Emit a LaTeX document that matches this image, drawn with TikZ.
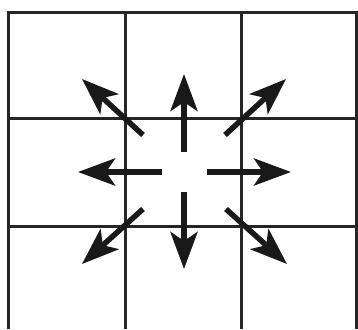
\documentclass[tikz,border=0pt]{standalone}
\usepackage{tikz}
\usetikzlibrary{arrows.meta}

\begin{document}
\begin{tikzpicture}[
  x=1pt,y=-1pt,
  gridline/.style={line width=3pt,draw=black!85},
  push/.style={-{Stealth[length=37pt,width=27pt,inset=9pt]},line width=5.5pt,draw=black!90}
]
\useasboundingbox (0,0) rectangle (358,329);
% grid
\draw[gridline] (8,329) -- (8,13) -- (356,13) -- (356,329);
\draw[gridline] (125,13) -- (125,329);
\draw[gridline] (241,13) -- (241,329);
\draw[gridline] (8,118) -- (356,118);
\draw[gridline] (8,226) -- (356,226);
% arrow ends
\coordinate (nFrom) at (184,152);  \coordinate (nTo) at (184,74);
\coordinate (sFrom) at (184,192);  \coordinate (sTo) at (184,269);
\coordinate (wFrom) at (162,172);  \coordinate (wTo) at (78,172);
\coordinate (eFrom) at (207,172);  \coordinate (eTo) at (291,172);
\coordinate (nwFrom) at (143,135); \coordinate (nwTo) at (82,79);
\coordinate (neFrom) at (225,135); \coordinate (neTo) at (286,79);
\coordinate (swFrom) at (143,209); \coordinate (swTo) at (82,264);
\coordinate (seFrom) at (226,209); \coordinate (seTo) at (287,264);
% arrows
\foreach \d in {n,s,w,e,nw,ne,sw,se}
  \draw[push] (\d From) -- (\d To);
\end{tikzpicture}
\end{document}
